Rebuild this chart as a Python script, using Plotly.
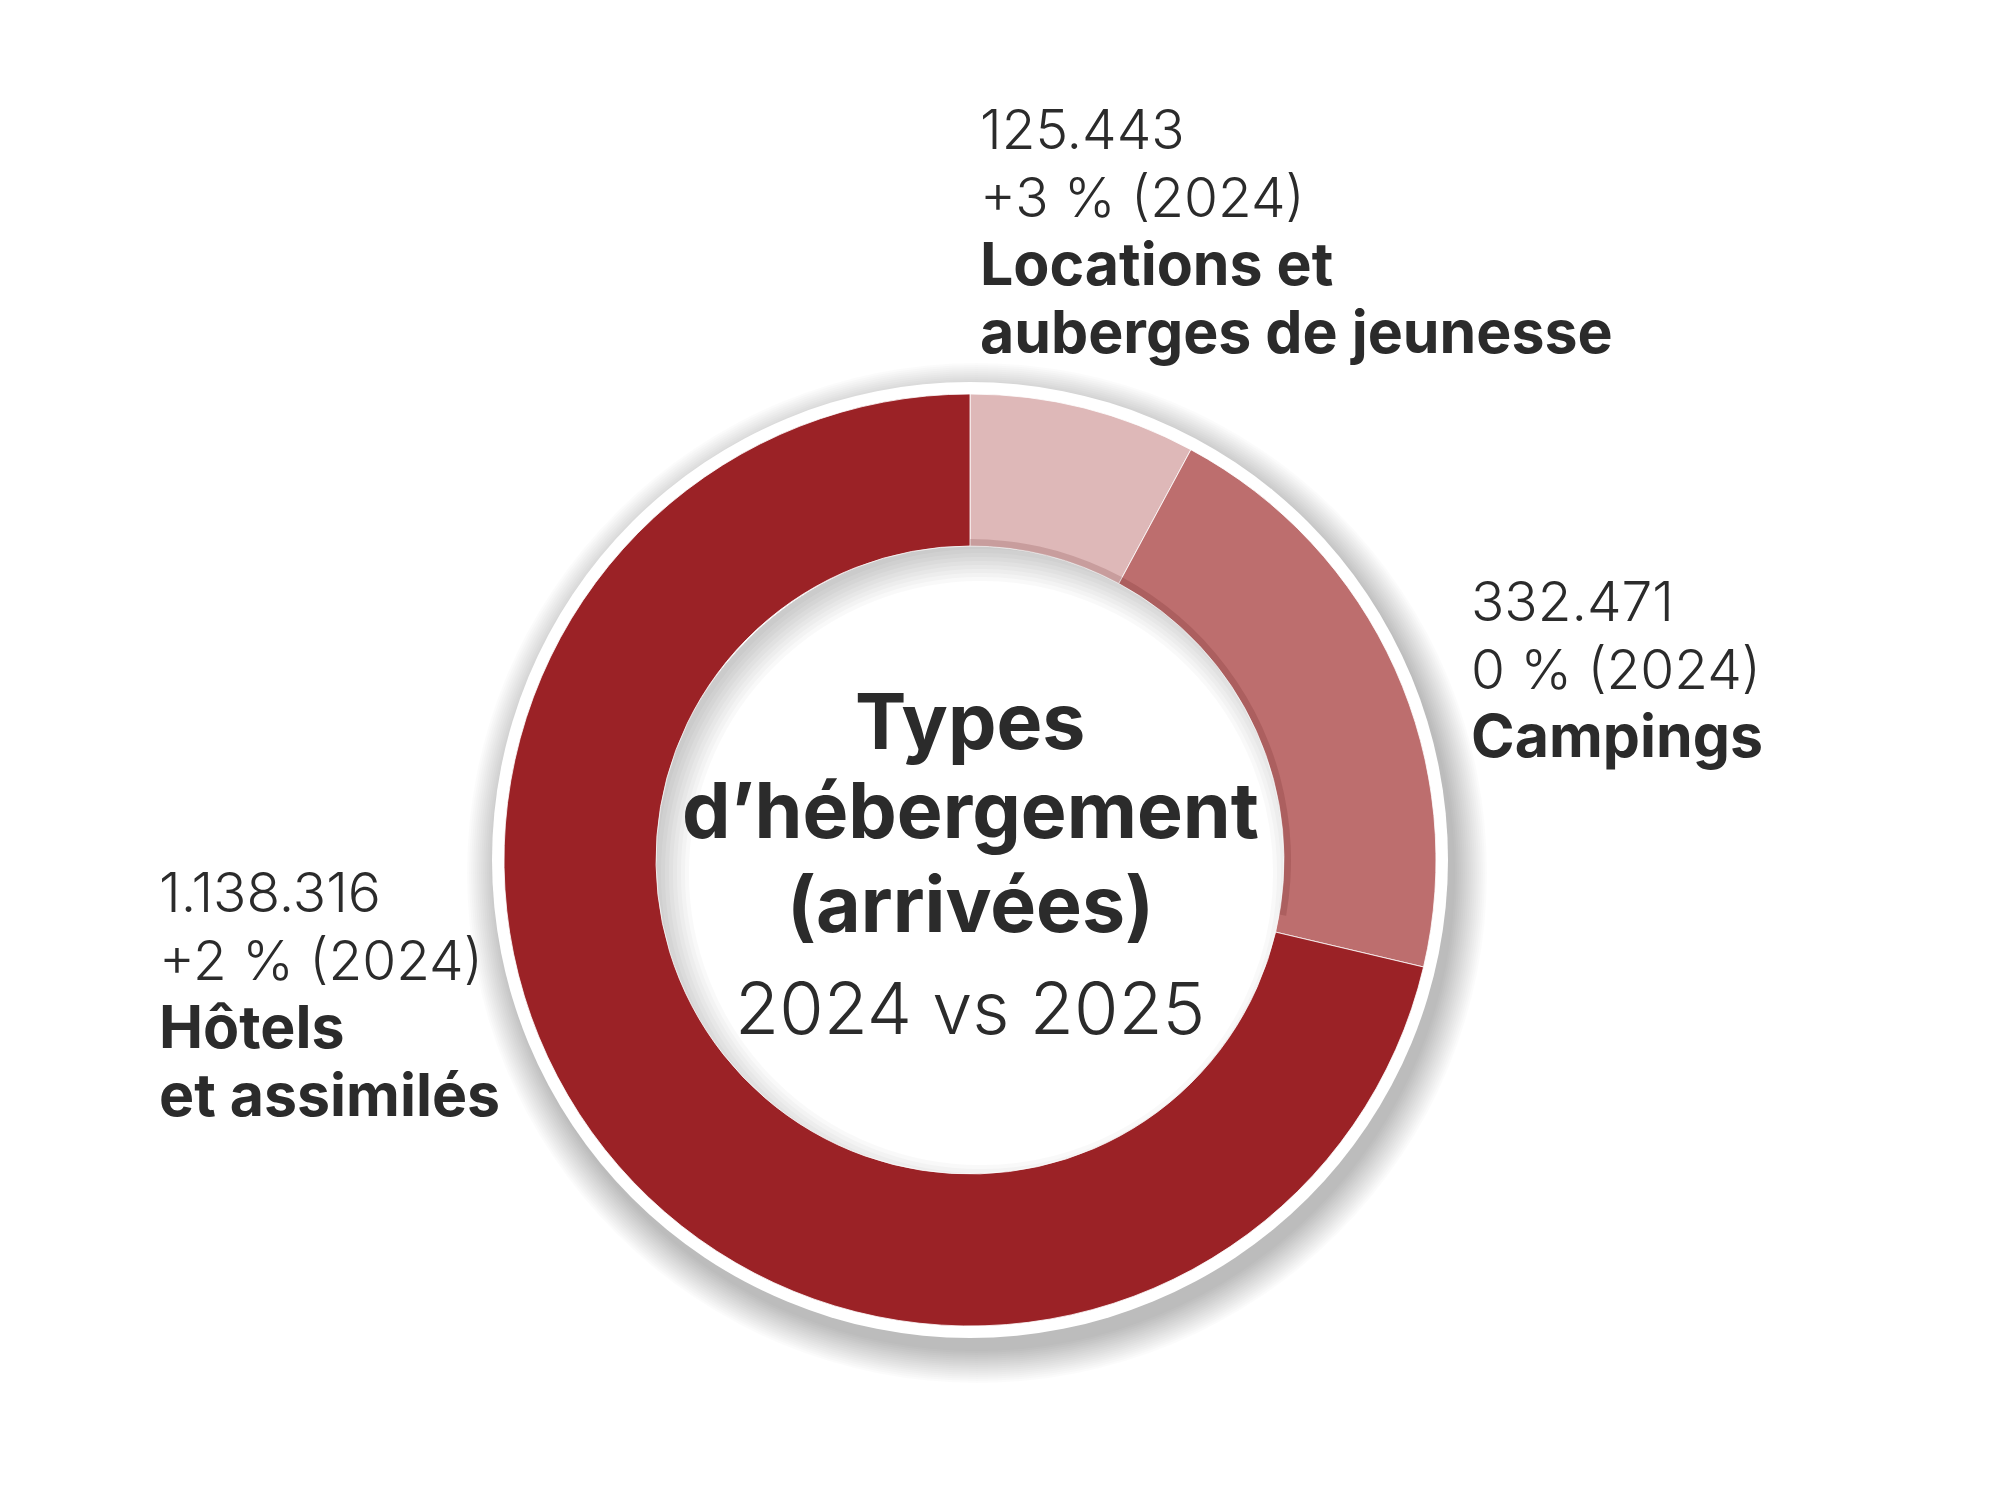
import plotly.graph_objects as go

# ---- data ----
label_lines = [["Locations et", "auberges de jeunesse"], ["Campings"], ["Hôtels", "et assimilés"]]
arrivals = [125443, 332471, 1138316]
changes = ["+3 %", "0 %", "+2 %"]
ref_year = "2024"
title_lines = ["Types", "d’hébergement", "(arrivées)"]
subtitle = "2024 vs 2025"

# ---- style ----
W, H = 2000, 1500
CX, CY = 970, 860
R_OUT, R_IN = 466, 314
colors = ["#deb8b8", "#bd6e6e", "#9b2226"]
TEXT = "#2b2b2b"
FONT = "Inter"
# left x and first baseline (px) of each label block
label_pos = [(978, 149), (1469, 621), (157, 912)]
LIGHT_SIZE = 55
BOLD_SIZE = 59
LINE_STEP = 68
TITLE_SIZE = 77
title_base = [749, 838, 932]
SUB_SIZE = 72
SUB_BASE = 1033


def px(x):
    return x / W


def py(y):
    return 1 - y / H


def circle(cx, cy, r, **kw):
    return dict(type="circle", xref="paper", yref="paper",
                x0=px(cx - r), x1=px(cx + r), y0=py(cy + r), y1=py(cy - r), **kw)


def fmt(v):
    return f"{v:,}".replace(",", ".")


fig = go.Figure()

fig.add_trace(go.Pie(
    values=arrivals,
    labels=[" ".join(l) for l in label_lines],
    sort=False,
    direction="clockwise",
    rotation=0,
    hole=R_IN / R_OUT,
    marker=dict(colors=colors, line=dict(color="white", width=0.8)),
    textinfo="none",
    hoverinfo="label+value",
    showlegend=False,
    domain=dict(x=[px(CX - R_OUT), px(CX + R_OUT)], y=[py(CY + R_OUT), py(CY - R_OUT)]),
))

# thin darker band on the inner edge at the top of the ring
band_r = R_IN + 7
fig.add_trace(go.Pie(
    values=[100, 260],
    sort=False,
    direction="clockwise",
    rotation=0,
    hole=R_IN / band_r,
    marker=dict(colors=["rgba(90,20,20,0.16)", "rgba(0,0,0,0)"], line=dict(width=0)),
    textinfo="none",
    hoverinfo="skip",
    showlegend=False,
    domain=dict(x=[px(CX - band_r), px(CX + band_r)], y=[py(CY + band_r), py(CY - band_r)]),
))

shapes = []
# soft outer shadow (down-right)
for k in range(34, 0, -2):
    shapes.append(circle(CX + 7, CY + 13, R_OUT + 10 + k, fillcolor="rgba(0,0,0,0.016)",
                         line=dict(width=0), layer="below"))
# white rim
shapes.append(circle(CX, CY, R_OUT + 12, fillcolor="white", line=dict(width=0), layer="below"))
# inner shadow in the hole (top-left)
for w in range(6, 40, 4):
    shapes.append(circle(CX + 11, CY + 13, R_IN + 16 - w / 2, fillcolor="rgba(0,0,0,0)",
                         line=dict(color="rgba(0,0,0,0.024)", width=w), layer="below"))

annotations = []
for lines, val, chg, (x0, y0) in zip(label_lines, arrivals, changes, label_pos):
    rows = [(fmt(val), 300, LIGHT_SIZE), (f"{chg} ({ref_year})", 300, LIGHT_SIZE)]
    rows += [(t, 700, BOLD_SIZE) for t in lines]
    for i, (txt, wt, sz) in enumerate(rows):
        base = y0 + i * LINE_STEP
        annotations.append(dict(
            text=txt, xref="paper", yref="paper", x=px(x0), y=py(base - 0.36 * sz),
            xanchor="left", yanchor="middle", showarrow=False,
            font=dict(family=FONT, size=sz, color=TEXT, weight=wt)))

# centre title
for txt, base in zip(title_lines, title_base):
    annotations.append(dict(
        text=txt, xref="paper", yref="paper", x=px(CX), y=py(base - 0.36 * TITLE_SIZE),
        xanchor="center", yanchor="middle", showarrow=False,
        font=dict(family=FONT, size=TITLE_SIZE, color=TEXT, weight=700)))
annotations.append(dict(
    text=subtitle, xref="paper", yref="paper", x=px(CX), y=py(SUB_BASE - 0.36 * SUB_SIZE),
    xanchor="center", yanchor="middle", showarrow=False,
    font=dict(family=FONT, size=SUB_SIZE, color=TEXT, weight=300)))

fig.update_layout(
    width=W,
    height=H,
    margin=dict(l=0, r=0, t=0, b=0),
    paper_bgcolor="white",
    plot_bgcolor="white",
    shapes=shapes,
    annotations=annotations,
)

fig.write_html("out.html", config={"displayModeBar": False},
               post_script="document.body.style.margin='0';")
